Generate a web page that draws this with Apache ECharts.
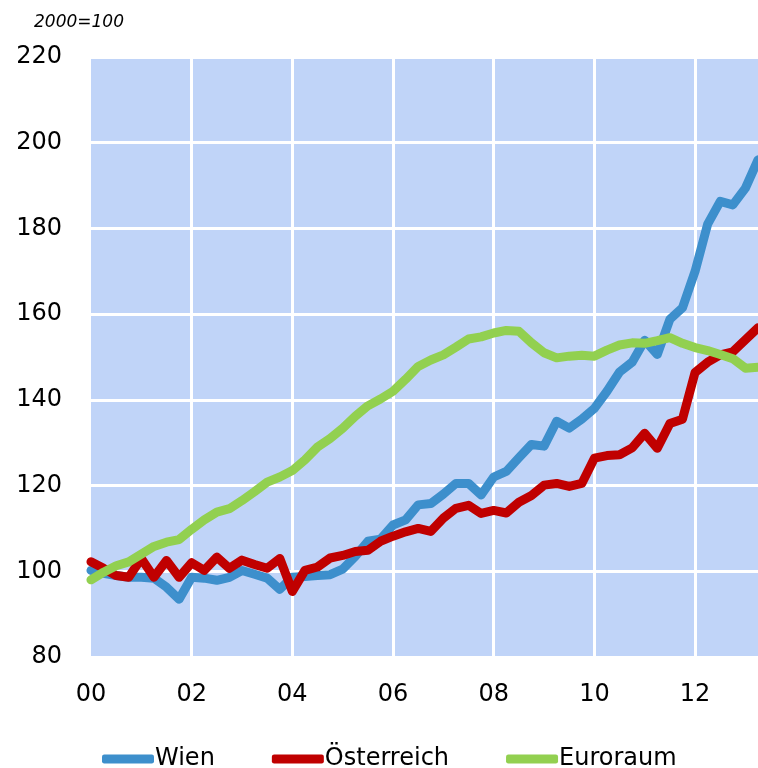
<!DOCTYPE html>
<html>
<head>
<meta charset="utf-8">
<script src="https://cdn.jsdelivr.net/npm/echarts@6/dist/echarts.min.js"></script>
<style>
    html, body { margin: 0; padding: 0; background: #fff; }
    #chart { width: 758px; height: 768px; }
</style>
</head>
<body>
<div id="chart"></div>
<script>
// quarterly index, 2000=100, 2000Q1 .. 2013Q2
var years = ['00', '01', '02', '03', '04', '05', '06', '07', '08', '09', '10', '11', '12', '13'];

var wien = [100.2, 99.5, 99, 98.6, 98.6, 98.4, 96.3, 93.5,
    98.6, 98.4, 97.9, 98.6, 100.2, 99.3, 98.4, 95.8,
    98.6, 98.8, 99, 99.2, 100.5, 103.5, 107, 107.5,
    110.8, 112, 115.5, 115.8, 118, 120.5, 120.5, 117.8,
    122, 123.3, 126.5, 129.6, 129.2, 135, 133.4, 135.5,
    138, 142, 146.5, 148.8, 153.9, 150.6, 158.8, 161.5,
    170, 181, 186.3, 185.5, 189.4, 196];

var oesterreich = [102.2, 100.7, 99, 98.6, 103, 98.6, 102.5, 98.6,
    102, 100.2, 103.3, 100.7, 102.6, 101.6, 100.7, 103,
    95.3, 100.2, 101, 103.1, 103.7, 104.6, 104.9, 107,
    108.2, 109.2, 110, 109.3, 112.4, 114.7, 115.4, 113.5,
    114.2, 113.6, 116.1, 117.7, 120.1, 120.5, 119.8, 120.5,
    126.4, 127, 127.2, 128.8, 132.2, 128.7, 134.5, 135.5,
    146.4, 148.8, 150.5, 151.2, 154, 156.8];

var euroraum = [98, 99.8, 101.3, 102.2, 104, 105.8, 106.8, 107.4,
    109.8, 112, 113.8, 114.6, 116.5, 118.6, 120.8, 122,
    123.5, 126, 129, 131, 133.4, 136.2, 138.6, 140.2,
    142, 144.8, 147.8, 149.3, 150.5, 152.3, 154.2, 154.7,
    155.6, 156.2, 156, 153.3, 151, 149.8, 150.2, 150.4,
    150.2, 151.6, 152.8, 153.3, 153.2, 153.8, 154.5, 153.2,
    152.2, 151.5, 150.6, 149.6, 147.4, 147.6];

var seriesNames = ['Wien', 'Österreich', 'Euroraum'];
var colors = ['#3d8fcc', '#c00000', '#92d050'];

var chart = {
    init: function () {
        var myChart = echarts.init(document.getElementById('chart'));

        // one category per quarter, labelled with the year
        var categories = [];
        for (var i = 0; i < years.length; i++) {
            for (var q = 0; q < 4; q++) {
                if (categories.length < wien.length) {
                    categories.push(years[i]);
                }
            }
        }

        myChart.setOption(chart.getOption(categories));
    },

    getOption: function (categories) {
        var font = 'DejaVu Sans';
        var data = [wien, oesterreich, euroraum];
        var series = [];
        for (var i = 0; i < seriesNames.length; i++) {
            series.push({
                name: seriesNames[i],
                type: 'line',
                symbol: 'none',
                smooth: false,
                data: data[i],
                itemStyle: {color: colors[i]},
                lineStyle: {
                    color: colors[i],
                    width: 9,
                    cap: 'round',
                    join: 'round'
                },
                animation: false
            });
        }

        return {
            backgroundColor: '#ffffff',
            title: {
                text: '2000=100',
                left: 29,
                top: 9,
                textStyle: {
                    fontFamily: font,
                    fontStyle: 'italic',
                    fontWeight: 'normal',
                    fontSize: 17,
                    color: '#000'
                }
            },
            legend: {
                left: 97,
                top: 742,
                itemGap: 57,
                itemWidth: 52,
                itemHeight: 9,
                icon: 'roundRect',
                data: seriesNames,
                textStyle: {
                    fontFamily: font,
                    fontSize: 24,
                    color: '#000',
                    padding: [0, 0, 0, -4]
                }
            },
            grid: {
                left: 91,
                right: 0,
                top: 57,
                bottom: 111,
                show: true,
                backgroundColor: '#c0d4f8',
                borderWidth: 0
            },
            xAxis: {
                type: 'category',
                boundaryGap: false,
                data: categories,
                axisLine: {show: false},
                axisTick: {show: false},
                axisLabel: {
                    interval: 7,
                    margin: 26,
                    fontFamily: font,
                    fontSize: 24,
                    color: '#000'
                },
                splitLine: {
                    show: true,
                    interval: function (index) {
                        return index > 0 && index % 8 === 0;
                    },
                    lineStyle: {color: '#ffffff', width: 3}
                }
            },
            yAxis: {
                type: 'value',
                min: 80,
                max: 220,
                interval: 20,
                axisLine: {show: false},
                axisTick: {show: false},
                axisLabel: {
                    margin: 29,
                    fontFamily: font,
                    fontSize: 24,
                    color: '#000'
                },
                splitLine: {
                    show: true,
                    lineStyle: {color: '#ffffff', width: 3}
                }
            },
            series: series
        };
    }
};

chart.init();
</script>
</body>
</html>
